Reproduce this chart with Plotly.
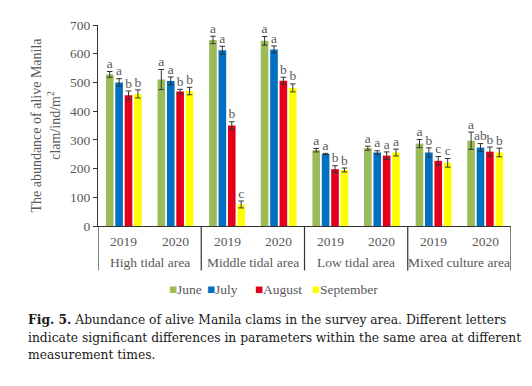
import plotly.graph_objects as go

areas = ["High tidal area", "Middle tidal area", "Low tidal area", "Mixed culture area"]
years = ["2019", "2020"]
months = ["June", "July", "August", "September"]
colors = ["#9BBB59", "#0070C0", "#E2001A", "#FFFF00"]

# values per group (High19, High20, Mid19, Mid20, Low19, Low20, Mix19, Mix20)
june = [528, 510, 648, 645, 264, 271, 287, 297]
july = [500, 505, 612, 615, 251, 256, 256, 273]
august = [455, 468, 350, 506, 198, 245, 227, 259]
september = [460, 470, 75, 481, 195, 256, 220, 256]

june_err = [10, 35, 13, 15, 6, 7, 14, 30]
july_err = [13, 14, 14, 12, 2, 6, 16, 14]
august_err = [15, 8, 13, 12, 12, 13, 15, 16]
september_err = [14, 13, 12, 14, 7, 12, 15, 15]

june_let = ["a", "a", "a", "a", "a", "a", "a", "a"]
july_let = ["a", "a", "a", "a", "a", "a", "b", "ab"]
august_let = ["b", "b", "b", "b", "b", "a", "c", "b"]
september_let = ["b", "b", "c", "b", "b", "a", "c", "b"]

series = [june, july, august, september]
errs = [june_err, july_err, august_err, september_err]
lets = [june_let, july_let, august_let, september_let]

FONT = "Liberation Serif, Times New Roman, serif"
GRAY = "#595959"

# page-pixel layout helpers (the page body has an 8px margin)
PL, PT, PR, PB = 98, 18, 511, 226
W, H = 516, 370
def px_x(px):
    return (px - PL) / (PR - PL)
def px_y(py):
    return (PB - py) / (PB - PT)

fig = go.Figure()
spacing = 0.182
bw = 0.148
ngroups = len(june)
for i, m in enumerate(months):
    xs = [g + (i - 1.5) * spacing for g in range(ngroups)]
    fig.add_trace(go.Bar(
        x=xs, y=series[i], width=bw, name=m, showlegend=False,
        marker=dict(color=colors[i], line=dict(width=0)),
        error_y=dict(type="data", array=errs[i], color="#333333", thickness=1, width=2.8),
    ))
for i, m in enumerate(months):
    xs = [g + (i - 1.5) * spacing for g in range(ngroups)]
    fig.add_trace(go.Scatter(
        x=xs, y=[v + e for v, e in zip(series[i], errs[i])], mode="text",
        text=lets[i], textposition="top center", showlegend=False,
        textfont=dict(family=FONT, size=13.5, color=GRAY), hoverinfo="skip",
    ))

annotations = []
for g in range(ngroups):
    annotations.append(dict(x=g, y=px_y(242), xref="x", yref="paper", text=years[g % 2],
                            showarrow=False, yanchor="middle",
                            font=dict(family=FONT, size=13.5, color=GRAY)))
for a, name in enumerate(areas):
    annotations.append(dict(x=2 * a + 0.5, y=px_y(264), xref="x", yref="paper", text=name,
                            showarrow=False, yanchor="middle",
                            font=dict(family=FONT, size=13.5, color=GRAY)))

# legend drawn as text
leg_sq_px = [168, 206, 254, 311]
for i, m in enumerate(months):
    annotations.append(dict(x=px_x(leg_sq_px[i] - 1), y=px_y(291), xref="paper", yref="paper",
                            text="■", showarrow=False, xanchor="left", yanchor="middle",
                            font=dict(family="DejaVu Sans", size=8.5, color=colors[i])))
    annotations.append(dict(x=px_x(leg_sq_px[i] + 7), y=px_y(291.5), xref="paper", yref="paper",
                            text=m, showarrow=False, xanchor="left", yanchor="middle",
                            font=dict(family=FONT, size=13.5, color=GRAY)))

cap_lines = [
    "<b>Fig. 5.</b> Abundance of alive Manila clams in the survey area. Different letters",
    "indicate significant differences in parameters within the same area at different",
    "measurement times.",
]
cap_y = [323, 341.5, 359.5]
for t, py in zip(cap_lines, cap_y):
    annotations.append(dict(x=px_x(26), y=px_y(py), xref="paper", yref="paper",
                            text=t, showarrow=False, xanchor="left", yanchor="middle",
                            font=dict(family="DejaVu Serif", size=12.3, color="#1a1a1a")))

shapes = []
for k in range(5):
    shapes.append(dict(type="line", xref="x", yref="paper", x0=2 * k - 0.5, x1=2 * k - 0.5,
                       y0=0, y1=px_y(272), line=dict(color="#333333", width=1.2)))

fig.update_layout(
    width=W, height=H,
    margin=dict(l=PL - 8, r=W - (PR - 8), t=PT - 8, b=H - (PB - 8)),
    paper_bgcolor="white", plot_bgcolor="white",
    showlegend=False,
    xaxis=dict(range=[-0.5, 7.5], showticklabels=False, showgrid=False, zeroline=False,
               showline=True, linecolor="#333333", linewidth=1.2, ticks=""),
    yaxis=dict(range=[0, 700], dtick=100, showgrid=False, zeroline=False,
               showline=True, linecolor="#333333", linewidth=1.2, ticks="outside", ticklen=4,
               tickcolor="#333333",
               tickfont=dict(family=FONT, size=13.5, color=GRAY),
               title=dict(text="The abundance of alive Manila<br>clam/ind/m<sup>2</sup>",
                          font=dict(family=FONT, size=14, color=GRAY), standoff=6)),
    annotations=annotations, shapes=shapes,
    font=dict(family=FONT),
)
fig.write_html("out.html")
